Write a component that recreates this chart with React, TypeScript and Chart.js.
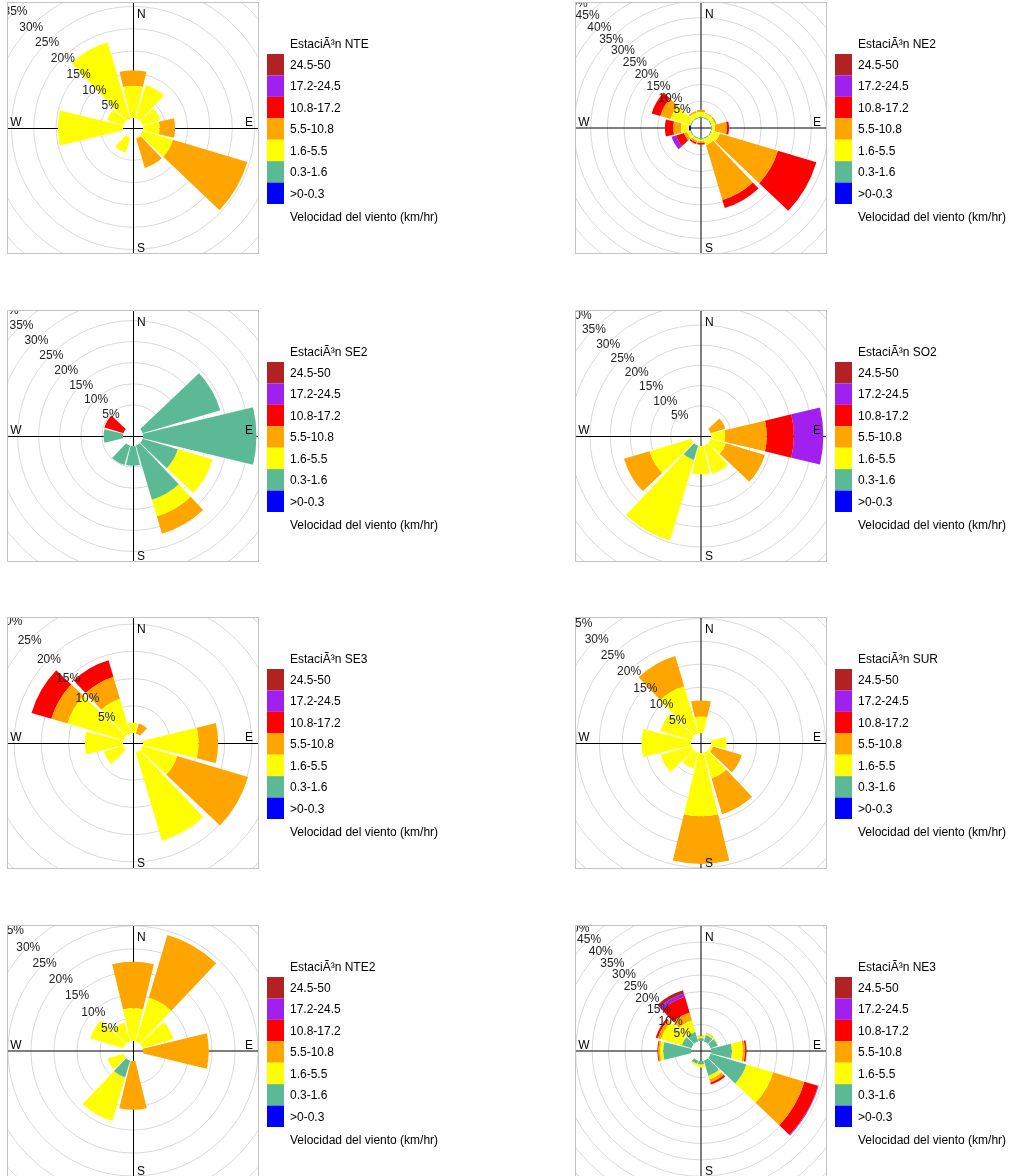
import React, { useEffect, useRef } from "react";
import { Chart, registerables } from "chart.js";

Chart.register(...registerables);

// Wind directions (degrees, clockwise from North), one petal each
const DIRECTIONS = [0, 30, 60, 90, 120, 150, 180, 210, 240, 270, 300, 330];

// Speed bins, low -> high (km/hr)
const SPEED_BINS = [">0-0.3", "0.3-1.6", "1.6-5.5", "5.5-10.8", "10.8-17.2", "17.2-24.5", "24.5-50"];
const BIN_COLOURS = ["#0000FF", "#5BB995", "#FFFF00", "#FFA500", "#FF0000", "#A020F0", "#B22222"];

// Percentage ring ticks
const RING_TICKS = [5, 10, 15, 20, 25, 30, 35, 40, 45, 50, 55, 60, 65, 70];

const LEGEND_FOOTER = "Velocidad del viento (km/hr)";
const TITLE_PREFIX = "EstaciÃ³n ";

// Frequency (%) per direction (rows: N, 30, ..., 330) and speed bin (columns: low -> high)
const NTE = [
  [0, 0, 7.2, 3.5, 0, 0, 0],
  [0, 0, 7.8, 0, 0, 0, 0],
  [0, 0, 4.1, 0, 0, 0, 0],
  [0, 0, 3.7, 3.5, 0, 0, 0],
  [0, 0, 7.1, 17.4, 0, 0, 0],
  [0, 0, 0.3, 6.8, 0, 0, 0],
  [0, 0, 0, 0, 0, 0, 0],
  [0, 0, 3.5, 0, 0, 0, 0],
  [0, 0, 0, 0, 0, 0, 0],
  [0, 0, 14.6, 0, 0, 0, 0],
  [0, 0, 3.8, 0, 0, 0, 0],
  [0, 0, 17.8, 0, 0, 0, 0],
];
const NE2 = [
  [0, 0.4, 1.4, 0.7, 0, 0, 0],
  [0, 0.3, 1.1, 0.3, 0, 0, 0],
  [0, 0.3, 1.0, 0.5, 0, 0, 0],
  [0, 0.3, 0.9, 3.5, 0.7, 0, 0],
  [0, 0.3, 2.5, 18.2, 12.0, 0, 0],
  [0, 0.3, 2.0, 17.2, 2.5, 0, 0],
  [0, 0.4, 0.6, 0.5, 0.5, 0, 0],
  [0, 0.3, 0.6, 0.6, 0.5, 0, 0],
  [0, 0.3, 1.0, 1.0, 2.5, 1.4, 0],
  [0.6, 0, 2.4, 2.3, 2.5, 0, 0],
  [0, 0.3, 6.2, 3.2, 2.7, 0, 0],
  [0, 0.3, 1.5, 0.5, 0, 0, 0],
];
const SE2 = [
  [0, 0, 0, 0, 0, 0, 0],
  [0, 0, 0, 0, 0, 0, 0],
  [0, 19.2, 0, 0, 0, 0, 0],
  [0, 26.9, 0, 0, 0, 0, 0],
  [0, 8.7, 8.6, 0, 0, 0, 0],
  [0, 13.4, 4.1, 4.3, 0, 0, 0],
  [0, 4.7, 0, 0, 0, 0, 0],
  [0, 4.8, 0, 0, 0, 0, 0],
  [0, 0, 0, 0, 0, 0, 0],
  [0, 4.6, 0, 0, 0, 0, 0],
  [0, 0, 0, 0, 4.7, 0, 0],
  [0, 0, 0, 0, 0, 0, 0],
];
const SO2 = [
  [0, 0, 0, 0, 0, 0, 0],
  [0, 0, 0, 0, 0, 0, 0],
  [0, 0, 0, 3.8, 0, 0, 0],
  [0, 0, 3.5, 10.3, 6.7, 7.3, 0],
  [0, 0, 3.9, 10.1, 0, 0, 0],
  [0, 0, 7.3, 0, 0, 0, 0],
  [0, 0, 7.0, 0, 0, 0, 0],
  [0, 3.7, 20.8, 0, 0, 0, 0],
  [0, 0, 10.8, 6.6, 0, 0, 0],
  [0, 0, 0, 0, 0, 0, 0],
  [0, 0, 0, 0, 0, 0, 0],
  [0, 0, 0, 0, 0, 0, 0],
];
const SE3 = [
  [0, 0, 1.9, 0, 0, 0, 0],
  [0, 0, 0, 1.9, 0, 0, 0],
  [0, 0, 0, 0, 0, 0, 0],
  [0, 0, 10.2, 3.6, 0, 0, 0],
  [0, 0, 6.6, 13.6, 0, 0, 0],
  [0, 0, 16.9, 0, 0, 0, 0],
  [0, 0, 0, 0, 0, 0, 0],
  [0, 0, 0, 0, 0, 0, 0],
  [0, 0, 3.7, 0, 0, 0, 0],
  [0, 0, 7.0, 0, 0, 0, 0],
  [0, 0, 10.7, 3.1, 3.8, 0, 0],
  [0, 0, 6.6, 4.2, 3.2, 0, 0],
];
const SUR = [
  [0, 0, 3.6, 3.5, 0, 0, 0],
  [0, 0, 0, 0, 0, 0, 0],
  [0, 0, 0, 0, 0, 0, 0],
  [0, 0, 3.4, 0, 0, 0, 0],
  [0, 0, 0.5, 6.6, 0, 0, 0],
  [0, 0, 5.8, 8.2, 0, 0, 0],
  [0, 0, 13.8, 10.4, 0, 0, 0],
  [0, 0, 3.6, 0, 0, 0, 0],
  [0, 0, 7.0, 0, 0, 0, 0],
  [0, 0, 10.8, 0, 0, 0, 0],
  [0, 0, 7.1, 0, 0, 0, 0],
  [0, 0, 10.7, 6.9, 0, 0, 0],
];
const NTE2 = [
  [0, 0, 7.1, 10.1, 0, 0, 0],
  [0, 0, 9.9, 14.2, 0, 0, 0],
  [0, 0, 7.0, 0, 0, 0, 0],
  [0, 0, 0, 14.3, 0, 0, 0],
  [0, 0, 0, 0, 0, 0, 0],
  [0, 0, 0, 0, 0, 0, 0],
  [0, 0, 0, 10.6, 0, 0, 0],
  [0, 3.8, 9.9, 0, 0, 0, 0],
  [0, 0, 3.6, 0, 0, 0, 0],
  [0, 0, 0, 0, 0, 0, 0],
  [0, 0, 7.5, 0, 0, 0, 0],
  [0, 0, 4.3, 0, 0, 0, 0],
];
const NE3 = [
  [0, 0.8, 0.6, 0.3, 0, 0, 0],
  [0, 2.0, 0.4, 0.3, 0, 0, 0],
  [0, 2.2, 0.3, 0, 0, 0, 0],
  [0, 6.3, 3.3, 0.7, 0.5, 0, 0],
  [0, 11.3, 8.5, 9.9, 4.3, 0.2, 0],
  [0, 4.8, 1.1, 1.0, 0.7, 0, 0],
  [0, 1.0, 1.0, 0, 0, 0, 0],
  [0, 1.0, 0.5, 0, 0, 0, 0],
  [0, 0, 0, 0, 0, 0, 0],
  [0, 8.4, 1.0, 0.5, 0.3, 0, 0],
  [0, 3.0, 6.6, 1.0, 0.7, 0, 0],
  [0, 3.0, 3.6, 2.5, 5.0, 1.1, 1.0],
];

const STATION_NAMES = ["NTE", "NE2", "SE2", "SO2", "SE3", "SUR", "NTE2", "NE3"];
const STATION_DATA = [NTE, NE2, SE2, SO2, SE3, SUR, NTE2, NE3];
// Radial axis maximum (% at the panel edge) per station
const RADIAL_MAX = [26.0, 34.7, 27.5, 28.7, 21.3, 25.3, 25.2, 35.2];

// ---- layout / style (not data) ----
const PETAL_ANGLE = 27;
const HOLE_RATIO = 10 / 116;
const PANEL_CENTERS = [
  [133, 128], [701, 128],
  [133, 436], [701, 436],
  [133, 743], [701, 743],
  [133, 1051], [701, 1051],
];
// axis line sub-pixel offsets [vertical, horizontal]
const AXIS_OFFSETS = [
  [0.5, 0.5], [0, 0],
  [0.5, 0.5], [0, 0.5],
  [0.5, 0.5], [0, 0.5],
  [0.5, 0], [0, 0],
];
const CANVAS_W = 456;
const CANVAS_H = 262;
const HALF = 131;
const FONT = '12px "Liberation Sans", Arial, Helvetica, sans-serif';

function WindRose({ index }: { index: number }) {
  const ref = useRef<HTMLCanvasElement>(null);
  useEffect(() => {
    const canvas = ref.current;
    if (!canvas) return;
    const freq = STATION_DATA[index];
    const name = STATION_NAMES[index];
    const rMax = RADIAL_MAX[index];
    const [vOff, hOff] = AXIS_OFFSETS[index];

    const cum = freq.map((row) => {
      let s = 0;
      return row.map((v) => (s += v));
    });

    const labels: string[] = [];
    DIRECTIONS.forEach((d) => {
      labels.push(String(d));
      labels.push("");
    });

    const datasets = SPEED_BINS.map((bin, b) => ({
      label: bin,
      data: DIRECTIONS.flatMap((_, i) => [cum[i][b], 0]),
      backgroundColor: (ctx: any) => {
        const i = ctx.dataIndex;
        if (i % 2 === 1) return "rgba(0,0,0,0)";
        return freq[i >> 1][b] > 0 ? BIN_COLOURS[b] : "rgba(0,0,0,0)";
      },
      borderWidth: 0,
      angle: (ctx: any) => (ctx.dataIndex % 2 === 0 ? PETAL_ANGLE : 30 - PETAL_ANGLE),
    }));

    const stackPlugin = {
      id: "stackRings",
      afterDatasetsUpdate(chart: any) {
        const scale = chart.scales.r;
        const base = scale.getDistanceFromCenterForValue(0);
        chart.data.datasets.forEach((_: any, b: number) => {
          const meta = chart.getDatasetMeta(b);
          meta.data.forEach((arc: any, i: number) => {
            arc.innerRadius = b === 0 ? base : chart.getDatasetMeta(b - 1).data[i].outerRadius;
          });
        });
      },
    };

    const decorPlugin = {
      id: "roseDecor",
      beforeDraw(chart: any) {
        const { ctx, chartArea: a } = chart;
        ctx.save();
        ctx.beginPath();
        ctx.rect(a.left, a.top, a.right - a.left, a.bottom - a.top);
        ctx.clip();
      },
      beforeDatasetsDraw(chart: any) {
        const { ctx, chartArea: a } = chart;
        const s = chart.scales.r;
        const x = s.xCenter + vOff;
        const y = s.yCenter + hOff;
        ctx.save();
        ctx.strokeStyle = "#000";
        ctx.lineWidth = 1;
        ctx.beginPath();
        ctx.moveTo(x, a.top);
        ctx.lineTo(x, a.bottom);
        ctx.moveTo(a.left, y);
        ctx.lineTo(a.right, y);
        ctx.stroke();
        ctx.restore();
      },
      afterDatasetsDraw(chart: any) {
        const { ctx, chartArea: a } = chart;
        const s = chart.scales.r;
        const cx = s.xCenter;
        const cy = s.yCenter;
        ctx.save();
        ctx.font = FONT;
        ctx.fillStyle = "#222";
        ctx.textAlign = "center";
        ctx.textBaseline = "middle";
        s.ticks.forEach((t: any) => {
          const r = s.getDistanceFromCenterForValue(t.value);
          ctx.fillText(t.value + "%", cx - r * Math.SQRT1_2, cy - r * Math.SQRT1_2 + 1);
        });
        ctx.fillStyle = "#000";
        ctx.textBaseline = "alphabetic";
        ctx.textAlign = "left";
        ctx.fillText("N", cx + 4, cy - 110);
        ctx.fillText("S", cx + 4, cy + 123.5);
        ctx.textAlign = "center";
        ctx.fillText("W", cx - 117, cy - 2);
        ctx.fillText("E", cx + 116, cy - 2);
        ctx.restore();
        ctx.restore(); // end clip

        // panel border
        ctx.save();
        ctx.strokeStyle = "#c4c4c4";
        ctx.lineWidth = 1;
        ctx.strokeRect(a.left + 0.5, a.top + 0.5, a.right - a.left - 1, a.bottom - a.top - 1);
        ctx.restore();

        // legend
        ctx.save();
        ctx.font = FONT;
        ctx.fillStyle = "#000";
        ctx.textAlign = "left";
        ctx.textBaseline = "middle";
        const boxX = cx + 134;
        const textX = cx + 157;
        const top = cy - 74;
        const h = 150 / SPEED_BINS.length;
        ctx.fillText(TITLE_PREFIX + name, textX, cy - 83);
        const n = SPEED_BINS.length;
        for (let k = 0; k < n; k++) {
          const b = n - 1 - k;
          ctx.fillStyle = BIN_COLOURS[b];
          ctx.fillRect(boxX, top + k * h, 17, h);
          ctx.fillStyle = "#000";
          ctx.fillText(SPEED_BINS[b], textX, top + k * h + h / 2 + 1);
        }
        ctx.fillText(LEGEND_FOOTER, textX, cy + 90);
        ctx.restore();
      },
    };

    const chart = new Chart(canvas, {
      type: "polarArea",
      data: { labels, datasets },
      options: {
        responsive: false,
        animation: false,
        devicePixelRatio: 1,
        events: [],
        layout: { padding: { left: 5, top: 5, right: CANVAS_W - 5 - 252, bottom: CANVAS_H - 5 - 252 } },
        plugins: { legend: { display: false }, tooltip: { enabled: false }, title: { display: false } },
        scales: {
          r: {
            min: -rMax * HOLE_RATIO,
            max: rMax,
            startAngle: -PETAL_ANGLE / 2,
            afterBuildTicks: (scale: any) => {
              scale.ticks = RING_TICKS.map((v) => ({ value: v }));
            },
            ticks: { display: false },
            pointLabels: { display: false },
            angleLines: { display: false },
            grid: { display: true, color: "#d9d9d9", lineWidth: 1, circular: true },
          },
        },
      } as any,
      plugins: [stackPlugin, decorPlugin],
    } as any);
    return () => chart.destroy();
  }, [index]);

  const [cx, cy] = PANEL_CENTERS[index];
  return (
    <canvas
      ref={ref}
      width={CANVAS_W}
      height={CANVAS_H}
      style={{ position: "absolute", left: cx - HALF, top: cy - HALF, width: CANVAS_W, height: CANVAS_H }}
    />
  );
}

export default function App() {
  return (
    <div
      style={{
        position: "absolute",
        left: 0,
        top: 0,
        width: 1019,
        height: 1176,
        overflow: "hidden",
        background: "#fff",
      }}
    >
      {STATION_NAMES.map((_, i) => (
        <WindRose key={i} index={i} />
      ))}
    </div>
  );
}
